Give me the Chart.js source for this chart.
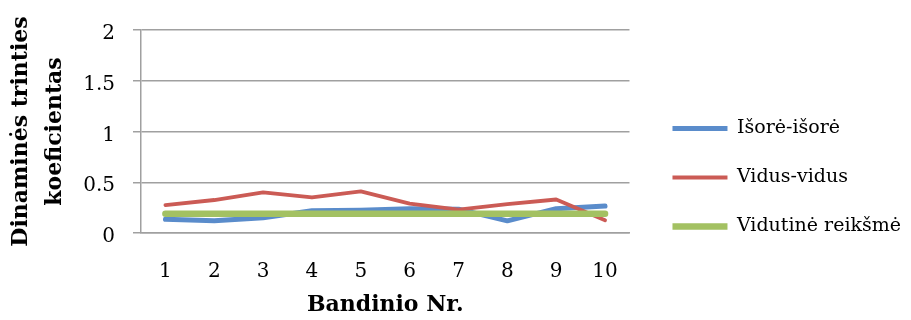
<!DOCTYPE html>
<html>
<head>
<meta charset="utf-8">
<script src="https://cdn.jsdelivr.net/npm/chart.js@4.4.1/dist/chart.umd.min.js"></script>
<style>
  html, body { margin: 0; padding: 0; background: #fff; }
  #wrap { width: 911px; height: 320px; }
</style>
</head>
<body>
<div id="wrap"><canvas id="frictionChart" width="911" height="320"></canvas></div>
<script>
const sampleNos = ["1", "2", "3", "4", "5", "6", "7", "8", "9", "10"];
const outerOuter = [0.135, 0.12, 0.15, 0.22, 0.225, 0.24, 0.235, 0.12, 0.24, 0.265];
const innerInner = [0.275, 0.325, 0.40, 0.35, 0.41, 0.29, 0.23, 0.285, 0.33, 0.125];
const meanValue = [0.19, 0.19, 0.19, 0.19, 0.19, 0.19, 0.19, 0.19, 0.19, 0.19];

const FONT = "'DejaVu Serif', 'Liberation Serif', serif";
const GRID = "#a0a0a0";

const ctx = document.getElementById("frictionChart").getContext("2d");
new Chart(ctx, {
  type: "line",
  data: {
    labels: sampleNos,
    datasets: [
      { label: "Išorė-išorė", data: outerOuter, borderColor: "#5a8ccb", borderWidth: 5, order: 2 },
      { label: "Vidus-vidus", data: innerInner, borderColor: "#cb5b55", borderWidth: 3.8, order: 1 },
      { label: "Vidutinė reikšmė", data: meanValue, borderColor: "#a3c162", borderWidth: 6.5, order: 0 }
    ]
  },
  options: {
    responsive: false,
    animation: false,
    layout: { padding: { left: 0, right: 0, top: 30, bottom: 0 } },
    elements: {
      point: { radius: 0 },
      line: { tension: 0, fill: false, borderCapStyle: "round", borderJoinStyle: "round" }
    },
    plugins: {
      tooltip: { enabled: false },
      legend: {
        position: "right",
        align: "start",
        maxWidth: 269,
        title: { display: true, text: " ", font: { size: 10 }, padding: { top: 47, bottom: 0 } },
        labels: {
          usePointStyle: true,
          pointStyle: "line",
          pointStyleWidth: 55,
          padding: 30,
          color: "#000",
          font: { family: FONT, size: 19 },
          sort: (a, b) => a.datasetIndex - b.datasetIndex
        }
      }
    },
    scales: {
      x: {
        offset: true,
        grid: { display: false, drawTicks: false },
        border: { display: true, color: GRID, width: 1.5 },
        ticks: { color: "#000", font: { family: FONT, size: 20 }, padding: 27, maxRotation: 0 },
        title: { display: true, text: "Bandinio Nr.", color: "#000", font: { family: FONT, size: 22, weight: "bold" }, padding: { top: 0, bottom: 2 } },
        afterFit: s => { s.height = 87; }
      },
      y: {
        min: 0,
        max: 2,
        ticks: { stepSize: 0.5, color: "#000", font: { family: FONT, size: 20 }, padding: 18, labelOffset: 4, callback: v => String(v) },
        grid: { color: GRID, lineWidth: 1.5, tickLength: 8 },
        border: { display: true, color: GRID, width: 1.5 },
        title: {
          display: true,
          text: ["Dinaminės trinties", "koeficientas"],
          color: "#000",
          font: { family: FONT, size: 22, weight: "bold", lineHeight: 1.55 },
          padding: { top: 4, bottom: 0 }
        },
        afterFit: s => { s.width = 141; }
      },
      gap: {
        position: "right",
        display: true,
        grid: { display: false, drawTicks: false },
        border: { display: false },
        ticks: { display: false },
        afterFit: s => { s.width = 13; }
      }
    }
  }
});
</script>
</body>
</html>
